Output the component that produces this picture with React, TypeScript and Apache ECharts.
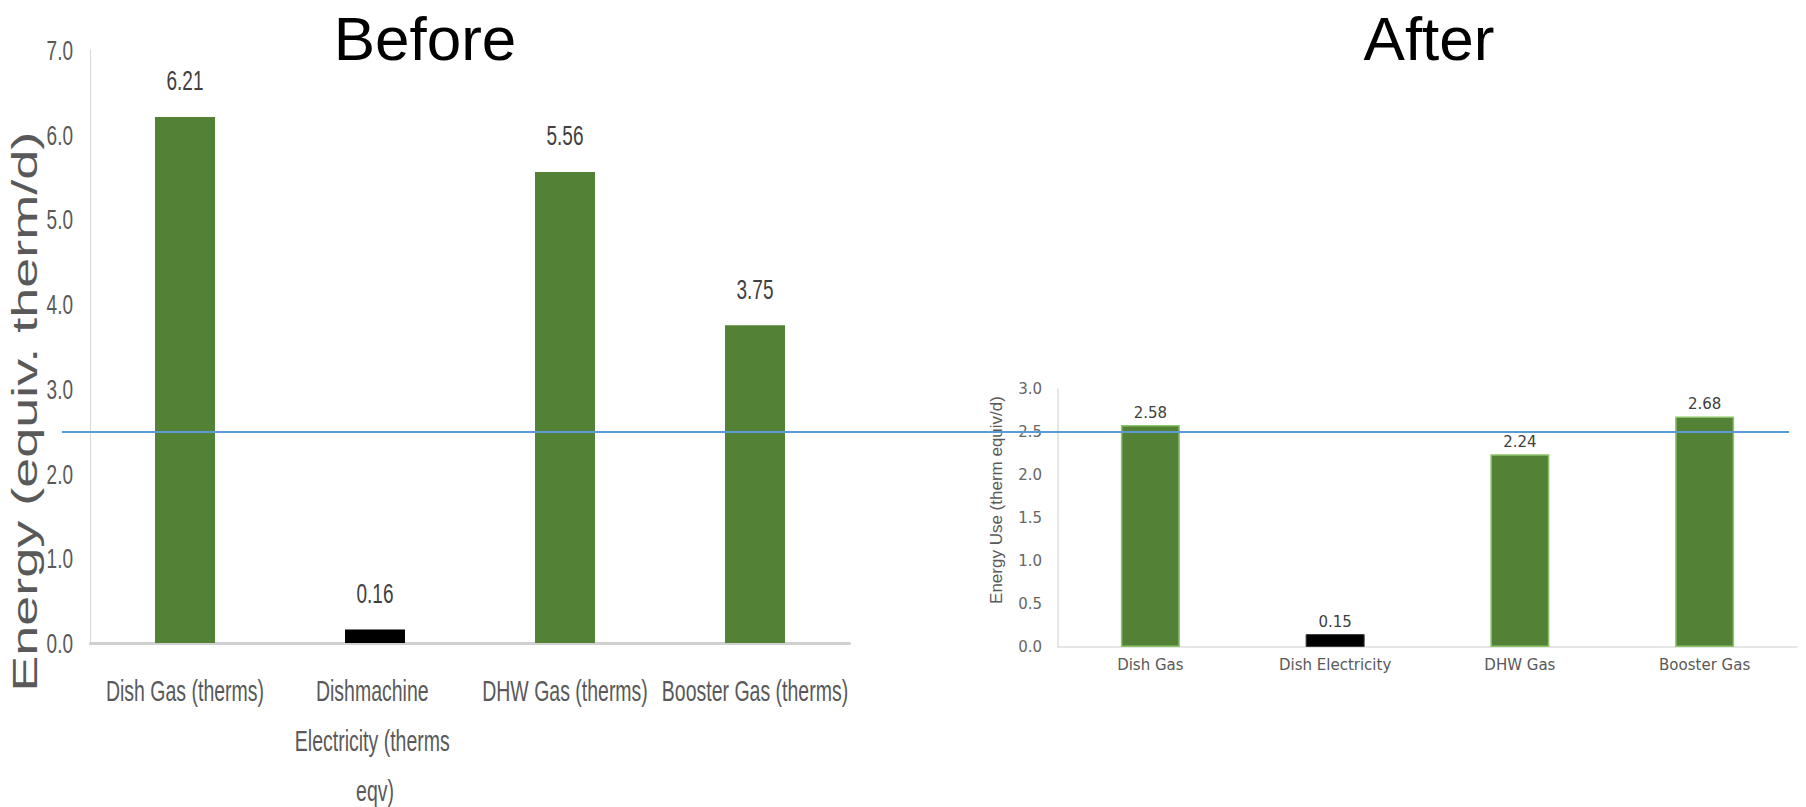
import React, { useEffect, useRef } from "react";
import * as echarts from "echarts";

// ---- data ----
const beforeCategories = [
  "Dish Gas (therms)",
  "Dishmachine Electricity (therms eqv)",
  "DHW Gas (therms)",
  "Booster Gas (therms)",
];
const beforeValues = [6.21, 0.16, 5.56, 3.75];
const beforeAxisName = "Energy (equiv. therm/d)";
const beforeTitle = "Before";

const afterCategories = ["Dish Gas", "Dish Electricity", "DHW Gas", "Booster Gas"];
const afterValues = [2.58, 0.15, 2.24, 2.68];
const afterAxisName = "Energy Use (therm equiv/d)";
const afterTitle = "After";

const referenceLevel = 2.5;

const GREEN = "#538135";
const BLACK = "#000000";
const STRETCH = 1.5; // the "Before" picture is stretched vertically

const isElectric = (name: string) => /Electricity/.test(name);
const barColor = (p: any) => (isElectric(p.name) ? BLACK : GREEN);

export default function App() {
  const leftRef = useRef<HTMLDivElement>(null);
  const rightRef = useRef<HTMLDivElement>(null);

  useEffect(() => {
    const left = echarts.init(leftRef.current!, undefined, { renderer: "svg" });
    const right = echarts.init(rightRef.current!, undefined, { renderer: "svg" });
    const F = "Liberation Sans, Arial, sans-serif";
    const D = "DejaVu Sans, sans-serif";

    left.setOption({
      animation: false,
      grid: {
        left: 90,
        right: 50,
        top: 50 / STRETCH,
        bottom: 807 / STRETCH - 643 / STRETCH,
        outerBoundsMode: "none",
        containLabel: false,
      },
      xAxis: {
        type: "category",
        data: beforeCategories,
        axisLine: { lineStyle: { color: "#d0d0d0", width: 2 } },
        axisTick: { show: false },
        axisLabel: {
          interval: 0,
          margin: 15,
          fontFamily: F,
          fontSize: 19.5,
          color: "#595959",
          lineHeight: 33.5,
          width: 192,
          overflow: "break",
        },
      },
      yAxis: {
        type: "value",
        min: 0,
        max: 7,
        interval: 1,
        name: beforeAxisName,
        nameLocation: "middle",
        nameGap: 47,
        nameMoveOverlap: false,
        nameTextStyle: {
          fontFamily: F,
          fontSize: 36,
          lineHeight: 38,
          color: "#595959",
          padding: [0, 87, 0, 0],
        },
        axisLine: { show: true, lineStyle: { color: "#d9d9d9", width: 1 } },
        axisTick: { show: false },
        splitLine: { show: false },
        axisLabel: {
          margin: 17,
          fontFamily: F,
          fontSize: 19,
          color: "#595959",
          formatter: (v: number) => v.toFixed(1),
        },
      },
      series: [
        {
          type: "bar",
          data: beforeValues,
          barWidth: 60,
          itemStyle: { color: barColor },
          label: {
            show: true,
            position: "top",
            distance: 15,
            fontFamily: F,
            fontSize: 19,
            color: "#404040",
            formatter: (p: any) => Number(p.value).toFixed(2),
          },
        },
      ],
    });

    const afterData = afterValues.map((v, i) => ({
      value: v,
      itemStyle: isElectric(afterCategories[i])
        ? { color: BLACK, borderColor: "#3a3a3a", borderWidth: 1 }
        : { color: GREEN, borderColor: "#8cc46a", borderWidth: 1.5 },
    }));

    right.setOption({
      animation: false,
      grid: {
        left: 1058,
        right: 9,
        top: 389,
        bottom: 160,
        outerBoundsMode: "none",
        containLabel: false,
      },
      xAxis: {
        type: "category",
        data: afterCategories,
        axisLine: { lineStyle: { color: "#dedede", width: 1.5 } },
        axisTick: { show: false },
        axisLabel: { interval: 0, margin: 10, fontFamily: D, fontSize: 15, color: "#595959" },
      },
      yAxis: {
        type: "value",
        min: 0,
        max: 3,
        interval: 0.5,
        name: afterAxisName,
        nameLocation: "middle",
        nameGap: 53,
        nameMoveOverlap: false,
        nameTextStyle: { fontFamily: F, fontSize: 17, color: "#595959", padding: [0, 0, 0, 36] },
        axisLine: { show: true, lineStyle: { color: "#dedede", width: 1.5 } },
        axisTick: { show: false },
        splitLine: { show: false },
        axisLabel: {
          margin: 16,
          fontFamily: D,
          fontSize: 15,
          color: "#666666",
          formatter: (v: number) => v.toFixed(1),
        },
      },
      series: [
        {
          type: "bar",
          data: afterData,
          barWidth: 59,
          label: {
            show: true,
            position: "top",
            distance: 5,
            fontFamily: D,
            fontSize: 15,
            color: "#404040",
            formatter: (p: any) => Number(p.value).toFixed(2),
          },
        },
      ],
    });

    const yRef = right.convertToPixel({ yAxisIndex: 0 }, referenceLevel) as number;
    right.setOption({
      graphic: [
        {
          id: "titleBefore",
          type: "text",
          x: 425,
          y: 7,
          style: {
            text: beforeTitle,
            fontSize: 62,
            fontFamily: F,
            fill: "#000",
            textAlign: "center",
            textVerticalAlign: "top",
          },
        },
        {
          id: "titleAfter",
          type: "text",
          x: 1429,
          y: 7,
          style: {
            text: afterTitle,
            fontSize: 62,
            fontFamily: F,
            fill: "#000",
            textAlign: "center",
            textVerticalAlign: "top",
          },
        },
        {
          id: "refLine",
          type: "line",
          z: 100,
          shape: { x1: 62, y1: yRef, x2: 1789, y2: yRef },
          style: { stroke: "#5b9bd5", lineWidth: 2 },
        },
      ],
    });

    return () => {
      left.dispose();
      right.dispose();
    };
  }, []);

  return (
    <div
      style={{
        position: "fixed",
        left: 0,
        top: 0,
        width: 1806,
        height: 807,
        background: "#fff",
        overflow: "hidden",
      }}
    >
      <div
        ref={leftRef}
        style={{
          position: "absolute",
          left: 0,
          top: 0,
          width: 900,
          height: 807 / STRETCH,
          transform: `scaleY(${STRETCH})`,
          transformOrigin: "0 0",
        }}
      />
      <div
        ref={rightRef}
        style={{ position: "absolute", left: 0, top: 0, width: 1806, height: 807 }}
      />
    </div>
  );
}
